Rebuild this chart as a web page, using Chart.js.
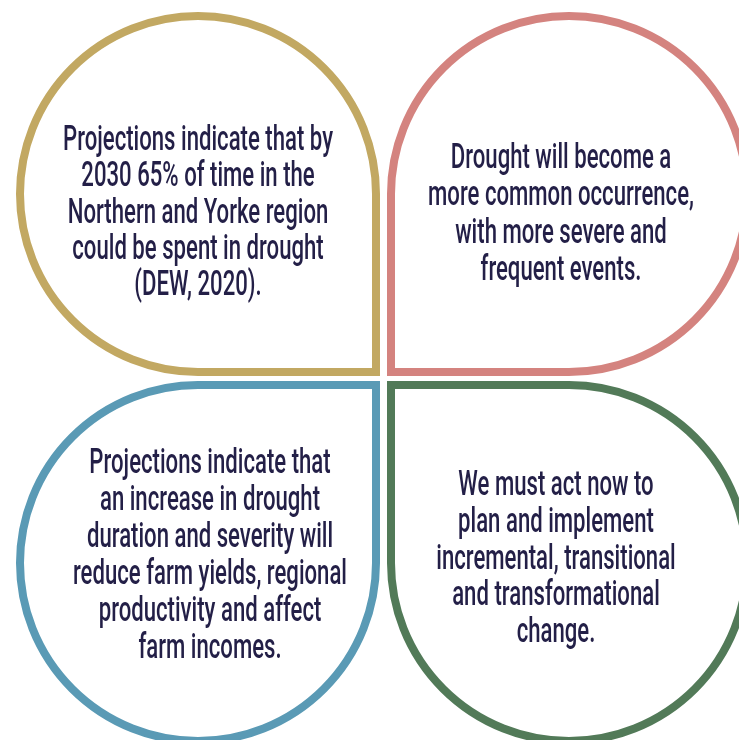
<!DOCTYPE html>
<html>
<head>
<meta charset="utf-8">
<script src="https://cdn.jsdelivr.net/npm/chart.js@4.4.0/dist/chart.umd.min.js"></script>
<style>
  html, body { margin: 0; padding: 0; background: #fff; }
  #wrap { width: 739px; height: 740px; }
</style>
</head>
<body>
<div id="wrap"><canvas id="petals"></canvas></div>
<script>
// panel content
const panelNames = ['timeInDrought', 'commonOccurrence', 'farmIncomes', 'actNow'];
const panelText = [
    ['Projections indicate that by', '2030 65% of time in the', 'Northern and Yorke region', 'could be spent in drought', '(DEW, 2020).'],
    ['Drought will become a', 'more common occurrence,', 'with more severe and', 'frequent events.'],
    ['Projections indicate that', 'an increase in drought', 'duration and severity will', 'reduce farm yields, regional', 'productivity and affect', 'farm incomes.'],
    ['We must act now to', 'plan and implement', 'incremental, transitional', 'and transformational', 'change.']
];

// layout (in scale units, which match the 739x740 page)
const layout = [
    { cx: 198, cy: 194, corner: [1, 1],   color: '#c2a862', textX: 198, firstLine: 150, lineGap: 36.3 },
    { cx: 569, cy: 194, corner: [-1, 1],  color: '#d4837f', textX: 561, firstLine: 168, lineGap: 37.3 },
    { cx: 198, cy: 563, corner: [1, -1],  color: '#5a9ab5', textX: 210, firstLine: 473, lineGap: 37 },
    { cx: 569, cy: 563, corner: [-1, -1], color: '#527a58', textX: 556, firstLine: 495, lineGap: 36.8 }
];
const petalRadius = 178;

const petalPlugin = {
    id: 'petals',
    afterDatasetsDraw: (chart) => {
        const { ctx } = chart;
        const x = chart.scales.x;
        const y = chart.scales.y;

        layout.forEach((p, i) => {
            const px = x.getPixelForValue(p.cx);
            const py = y.getPixelForValue(p.cy);
            const r = x.getPixelForValue(p.cx + petalRadius) - px;
            const [dx, dy] = p.corner;

            // quadrant that gets the square corner
            let qStart;
            if (dx > 0 && dy > 0) qStart = 0;
            else if (dx < 0 && dy > 0) qStart = Math.PI / 2;
            else if (dx < 0 && dy < 0) qStart = Math.PI;
            else qStart = Math.PI * 1.5;
            const qEnd = qStart + Math.PI / 2;

            ctx.save();
            ctx.beginPath();
            ctx.arc(px, py, r, qEnd, qStart + Math.PI * 2, false);
            ctx.lineTo(px + dx * r, py + dy * r);
            ctx.closePath();
            ctx.lineWidth = 8;
            ctx.lineJoin = 'miter';
            ctx.strokeStyle = p.color;
            ctx.stroke();
            ctx.restore();
        });

        // condensed text
        ctx.save();
        ctx.font = '500 35px Roboto, "Noto Sans", sans-serif';
        const squeeze = 270 / ctx.measureText(panelText[0][0]).width;
        ctx.fillStyle = '#231f47';
        ctx.textAlign = 'center';
        ctx.textBaseline = 'alphabetic';
        panelText.forEach((lines, i) => {
            const p = layout[i];
            const tx = x.getPixelForValue(p.textX);
            lines.forEach((line, j) => {
                const ty = y.getPixelForValue(p.firstLine + j * p.lineGap);
                ctx.save();
                ctx.translate(tx, ty);
                ctx.scale(squeeze, 1);
                ctx.fillText(line, 0, 0);
                ctx.restore();
            });
        });
        ctx.restore();
    }
};

new Chart(document.getElementById('petals'), {
    type: 'scatter',
    plugins: [petalPlugin],
    data: {
        labels: panelNames,
        datasets: [{
            data: layout.map(p => ({ x: p.cx, y: p.cy })),
            pointRadius: 0
        }]
    },
    options: {
        responsive: true,
        maintainAspectRatio: false,
        animation: false,
        layout: { padding: 0 },
        scales: {
            x: { type: 'linear', min: 0, max: 739, display: false },
            y: { type: 'linear', min: 0, max: 740, reverse: true, display: false }
        },
        plugins: {
            legend: { display: false },
            tooltip: { enabled: false }
        }
    }
});
</script>
</body>
</html>
